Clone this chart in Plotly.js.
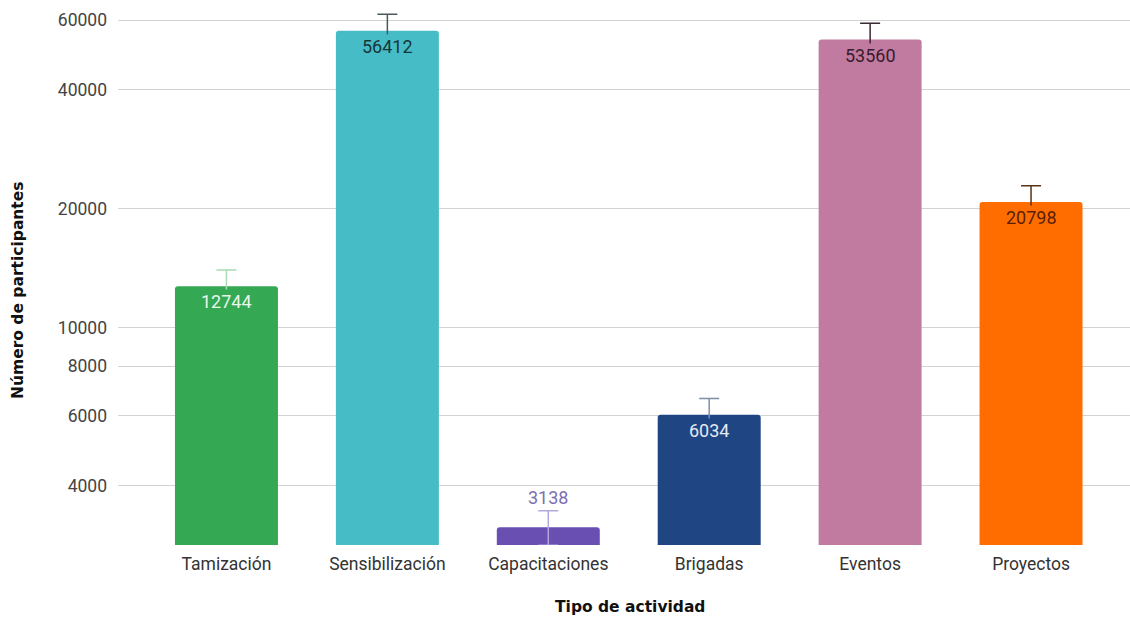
<!DOCTYPE html>
<html>
<head>
<meta charset="utf-8">
<script src="https://cdn.plot.ly/plotly-3.0.1.min.js"></script>
<style>html,body{margin:0;padding:0;background:#fff;}#chart{width:1130px;height:617px;}</style>
</head>
<body>
<div id="chart"></div>
<script>
const categories = ["Tamización", "Sensibilización", "Capacitaciones", "Brigadas", "Eventos", "Proyectos"];
const values = [12744, 56412, 3138, 6034, 53560, 20798];
const errorPercent = 10;
const barColors = ["#34a853", "#46bdc6", "#6a4fb3", "#1f4583", "#c27ba0", "#ff6d01"];
const errorColors = ["#a9dbb5", "#4a5a5c", "#b3a7dc", "#7f8fa8", "#3a2a33", "#5a3418"];
const labelColors = ["#e9f6ec", "#17363a", "#7e6fb0", "#e3e9f2", "#3a1a2c", "#5a1e00"];
const labelInside = [true, true, false, true, true, true];
const yTickVals = [4000, 6000, 8000, 10000, 20000, 40000, 60000];
const yTickText = ["4000", "6000", "8000", "10000", "20000", "40000", "60000"];
const xTitle = "Tipo de actividad";
const yTitle = "Número de participantes";

const traces = categories.map((c, i) => ({
  type: "bar",
  x: [c],
  y: [values[i]],
  width: 0.64,
  marker: {color: barColors[i], cornerradius: 3},
  error_y: {type: "percent", value: errorPercent, symmetric: true, color: errorColors[i], thickness: 1.5, width: 10},
  hoverinfo: "x+y",
  showlegend: false
}));

const annotations = categories.map((c, i) => labelInside[i] ? ({
  x: c, y: Math.log10(values[i]), xref: "x", yref: "y",
  text: String(values[i]), showarrow: false, yanchor: "top", yshift: -3,
  bgcolor: barColors[i], borderpad: 1,
  font: {family: "Roboto, Arial, sans-serif", size: 18, color: labelColors[i]}
}) : ({
  x: c, y: Math.log10(values[i] * (1 + errorPercent / 100)), xref: "x", yref: "y",
  text: String(values[i]), showarrow: false, yanchor: "bottom", yshift: 1,
  font: {family: "Roboto, Arial, sans-serif", size: 18, color: labelColors[i]}
}));

annotations.push({
  xref: "paper", yref: "paper", x: 0.506, y: -0.1155, xanchor: "center", yanchor: "middle",
  text: xTitle, showarrow: false,
  font: {family: "DejaVu Sans, Arial, sans-serif", size: 15.5, color: "#111", weight: "bold"}
});
annotations.push({
  xref: "paper", yref: "paper", x: (18 - 118) / 1012, y: (545 - 290) / 537, xanchor: "center", yanchor: "middle",
  text: yTitle, showarrow: false, textangle: -90,
  font: {family: "DejaVu Sans, Arial, sans-serif", size: 15.5, color: "#111", weight: "bold"}
});

const layout = {
  width: 1130, height: 617,
  margin: {l: 118, r: 0, t: 8, b: 72},
  paper_bgcolor: "#ffffff", plot_bgcolor: "#ffffff",
  barmode: "overlay",
  xaxis: {
    type: "category",
    range: [-0.674, 5.615],
    showgrid: false, zeroline: false, showline: false,
    ticks: "", ticklabelstandoff: 6,
    tickfont: {family: "Roboto, Arial, sans-serif", size: 17.5, color: "#333"}
  },
  yaxis: {
    type: "log",
    range: [Math.log10(2828), 4.8086],
    tickvals: yTickVals, ticktext: yTickText,
    showgrid: true, gridcolor: "#d3d3d3", gridwidth: 1,
    zeroline: false, showline: false,
    ticks: "", ticklabelstandoff: 10,
    tickfont: {family: "Roboto, Arial, sans-serif", size: 17.5, color: "#444"}
  },
  annotations: annotations,
  font: {family: "Roboto, Arial, sans-serif"}
};

Plotly.newPlot("chart", traces, layout, {displayModeBar: false, staticPlot: true});
</script>
</body>
</html>
